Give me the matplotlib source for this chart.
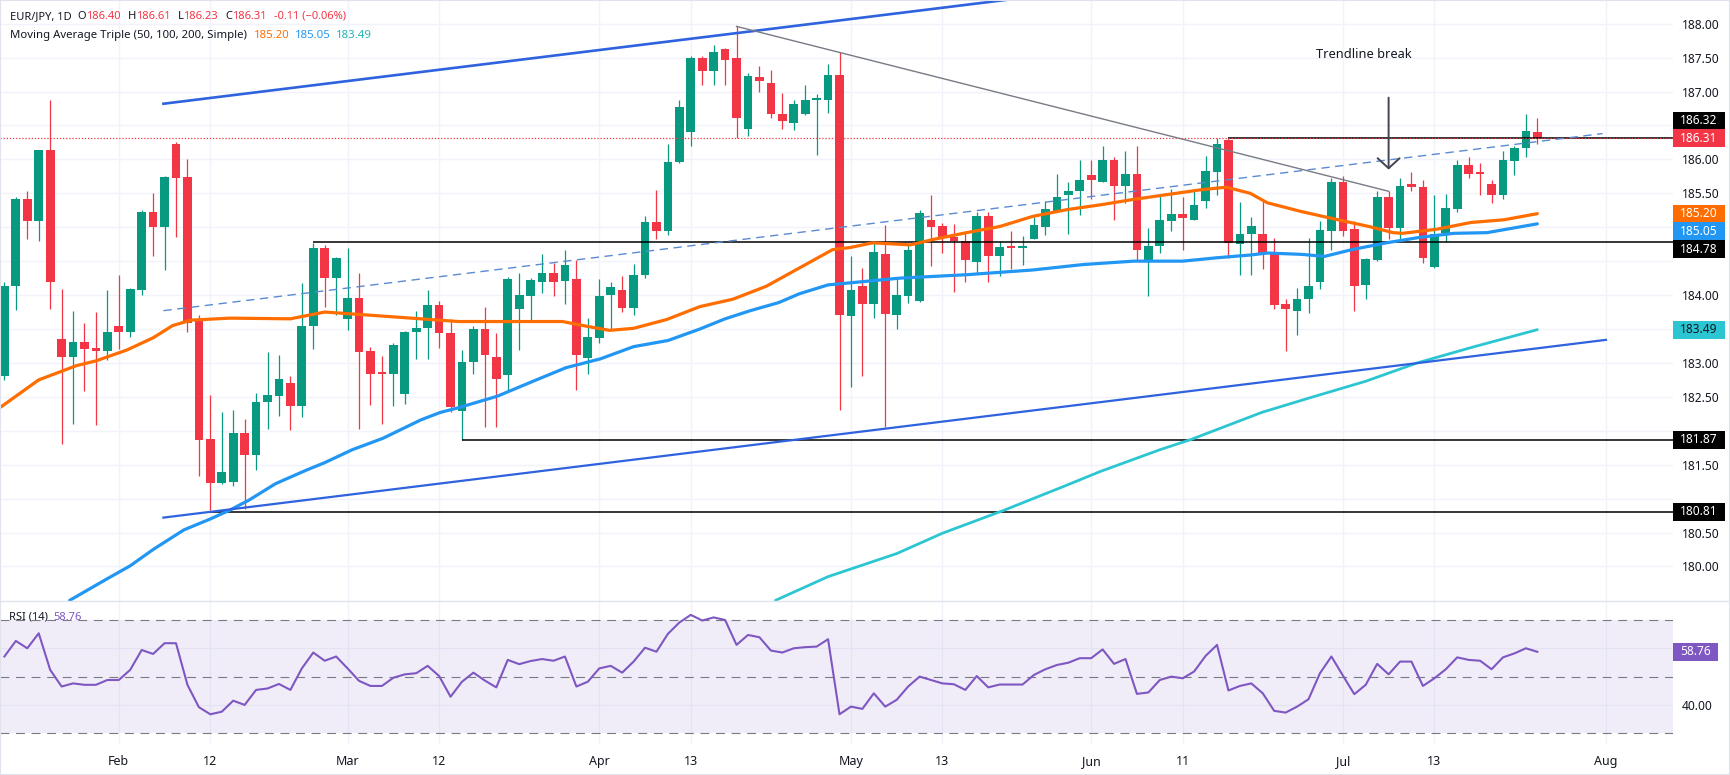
import numpy as np
import pandas as pd
import matplotlib
matplotlib.use('Agg')
import matplotlib.pyplot as plt
from matplotlib.patches import Rectangle
from matplotlib.lines import Line2D
from matplotlib.ticker import FormatStrFormatter
from matplotlib.transforms import IdentityTransform

plt.rcParams['font.family'] = ['Noto Sans', 'DejaVu Sans']

# EUR/JPY daily, 2026-01-19 .. 2026-07-24
first_day, last_day = '2026-01-19', '2026-07-24'

opens = [182.80, 184.13, 185.42, 185.09, 186.14, 183.35, 183.08, 183.31, 183.22, 183.18,
         183.55, 183.45, 184.08, 185.23, 185.00, 186.22, 185.74, 183.62, 181.88, 181.23,
         181.25, 181.96, 181.65, 182.42, 182.51, 182.70, 182.37, 183.55, 184.69, 184.25,
         183.65, 183.95, 183.17, 182.86, 182.83, 182.54, 183.45, 183.51, 183.86, 183.44,
         182.29, 183.02, 183.50, 183.09, 182.82, 183.79, 183.99, 184.20, 184.33, 184.21,
         184.23, 183.07, 183.37, 184.00, 184.08, 183.81, 184.29, 185.08, 184.94, 185.96,
         186.40, 187.49, 187.30, 187.62, 187.50, 186.45, 187.21, 187.12, 186.67, 186.54,
         186.67, 186.87, 186.87, 187.25, 183.69, 184.14, 183.87, 184.61, 183.71, 183.99,
         183.91, 185.10, 185.02, 184.85, 184.79, 184.49, 185.16, 184.58, 184.72, 184.70,
         184.83, 185.00, 185.23, 185.47, 185.54, 185.77, 185.66, 185.99, 185.61, 185.79,
         184.51, 184.72, 185.09, 185.20, 185.11, 185.38, 185.81, 186.28, 184.76, 184.90,
         184.90, 184.63, 183.87, 183.76, 183.94, 184.20, 184.95, 185.66, 184.97, 184.15,
         184.52, 185.45, 184.99, 185.63, 185.60, 184.41, 184.92, 185.27, 185.92, 185.81,
         185.64, 185.47, 185.97, 186.17, 186.40]
highs = [184.20, 185.45, 185.54, 186.14, 186.88, 184.09, 183.77, 183.59, 183.75, 184.07,
         184.29, 184.10, 185.26, 185.51, 185.76, 186.25, 186.00, 183.71, 182.53, 182.28,
         182.30, 182.17, 182.55, 183.16, 183.11, 182.80, 184.18, 184.77, 184.74, 184.56,
         184.69, 184.33, 183.23, 183.10, 183.30, 183.47, 183.77, 184.08, 183.91, 183.65,
         183.19, 183.55, 183.83, 183.44, 184.27, 184.33, 184.25, 184.61, 184.48, 184.66,
         184.52, 183.66, 184.24, 184.20, 184.28, 184.46, 185.17, 185.55, 186.23, 186.88,
         187.52, 187.53, 187.69, 187.64, 187.96, 187.28, 187.37, 187.32, 186.98, 186.88,
         187.10, 186.96, 187.41, 187.58, 184.57, 184.40, 184.77, 185.04, 184.25, 184.74,
         185.26, 185.47, 185.06, 185.05, 184.91, 185.22, 185.22, 184.79, 184.94, 184.87,
         185.15, 185.38, 185.79, 185.66, 185.99, 185.99, 186.20, 186.04, 186.12, 186.20,
         184.99, 185.47, 185.56, 185.45, 185.56, 186.05, 186.31, 186.32, 185.37, 185.15,
         185.38, 184.84, 183.94, 184.10, 184.84, 185.09, 185.73, 185.76, 185.09, 184.55,
         185.53, 185.53, 185.73, 185.82, 185.69, 185.47, 185.49, 185.99, 186.04, 185.95,
         185.70, 186.13, 186.20, 186.67, 186.61]
lows = [182.75, 183.78, 184.82, 184.80, 183.79, 181.80, 182.10, 182.58, 182.09, 183.05,
        183.20, 183.38, 184.00, 184.57, 184.37, 184.86, 183.45, 181.34, 180.83, 181.22,
        181.18, 180.84, 181.42, 182.02, 182.22, 182.01, 182.21, 183.20, 183.83, 183.71,
        183.49, 182.03, 182.38, 182.10, 182.37, 182.40, 183.06, 183.06, 183.22, 182.27,
        181.87, 182.83, 182.06, 182.05, 182.59, 183.19, 183.62, 184.03, 183.98, 183.87,
        182.60, 182.84, 183.30, 183.50, 183.75, 183.70, 184.25, 184.82, 184.88, 185.94,
        186.20, 187.09, 187.10, 187.10, 186.31, 186.34, 187.00, 186.61, 186.45, 186.44,
        186.66, 186.07, 186.68, 182.30, 182.64, 182.81, 183.66, 182.05, 183.50, 183.88,
        183.90, 184.43, 184.62, 184.05, 184.19, 184.31, 184.20, 184.28, 184.38, 184.45,
        184.82, 184.88, 185.22, 184.90, 185.18, 185.41, 185.66, 185.11, 185.36, 184.50,
        183.99, 184.62, 184.95, 184.66, 185.10, 185.28, 185.47, 184.55, 184.30, 184.30,
        184.38, 183.80, 183.17, 183.41, 183.73, 184.09, 184.67, 184.87, 183.76, 183.94,
        184.50, 184.82, 184.79, 185.53, 184.47, 184.40, 184.78, 185.22, 185.72, 185.48,
        185.35, 185.41, 185.77, 186.03, 186.23]
closes = [184.14, 185.41, 185.09, 186.14, 184.19, 183.08, 183.31, 183.21, 183.18, 183.45,
          183.45, 184.09, 185.23, 185.00, 185.74, 185.73, 183.59, 181.87, 181.23, 181.39,
          181.96, 181.65, 182.42, 182.52, 182.77, 182.37, 183.55, 184.69, 184.25, 184.54,
          183.95, 183.16, 182.84, 182.84, 183.26, 183.46, 183.52, 183.86, 183.44, 182.35,
          183.02, 183.50, 183.12, 182.77, 184.24, 184.00, 184.22, 184.33, 184.20, 184.45,
          183.11, 183.38, 183.99, 184.12, 183.81, 184.30, 185.08, 184.94, 185.96, 186.77,
          187.50, 187.30, 187.58, 187.47, 186.61, 187.23, 187.15, 186.67, 186.57, 186.81,
          186.87, 186.91, 187.24, 183.70, 184.07, 183.87, 184.63, 183.72, 184.00, 184.67,
          185.21, 185.01, 184.85, 184.79, 184.51, 185.16, 184.58, 184.71, 184.70, 184.73,
          185.04, 185.27, 185.45, 185.54, 185.70, 185.69, 185.99, 185.61, 185.79, 184.67,
          184.73, 185.10, 185.20, 185.13, 185.33, 185.83, 186.23, 184.77, 184.90, 185.02,
          184.60, 183.86, 183.80, 183.94, 184.14, 184.96, 185.66, 184.95, 184.14, 184.53,
          185.45, 184.99, 185.61, 185.59, 184.54, 184.90, 185.28, 185.92, 185.79, 185.79,
          185.47, 185.99, 186.17, 186.42, 186.31]

# moving averages (bar position, value)
ma50_x = [-0.4, 3.0, 6.3, 8.0, 10.7, 13.0, 14.7, 16.3, 19.7, 25.0, 28.0, 31.4, 36.4, 39.7,
          44.8, 48.8, 50.9, 52.9, 55.0, 57.9, 60.8, 63.7, 66.6, 69.5, 72.4, 73.9, 75.9, 79.2,
          81.2, 84.1, 87.0, 89.9, 92.9, 95.8, 98.7, 101.6, 104.5, 106.8, 108.9, 110.4, 113.4,
          116.3, 119.3, 121.4, 122.2, 125.2, 128.2, 131.1, 134.0]
ma50_y = [182.34, 182.75, 182.96, 183.03, 183.19, 183.37, 183.55, 183.63, 183.66, 183.65,
          183.75, 183.71, 183.65, 183.61, 183.61, 183.61, 183.54, 183.48, 183.51, 183.64,
          183.83, 183.94, 184.13, 184.40, 184.67, 184.70, 184.77, 184.74, 184.82, 184.92,
          185.01, 185.16, 185.26, 185.33, 185.41, 185.48, 185.55, 185.59, 185.50, 185.36,
          185.23, 185.12, 185.01, 184.92, 184.91, 184.97, 185.07, 185.11, 185.20]
ma100_x = [5.7, 9.0, 11.0, 13.0, 15.7, 18.0, 19.7, 21.4, 23.7, 26.4, 28.0, 30.4, 33.1, 36.4,
           38.1, 39.7, 43.1, 46.5, 49.1, 52.1, 55.0, 58.0, 60.8, 63.0, 65.2, 67.7, 69.5, 72.0,
           73.9, 78.3, 84.1, 89.9, 94.3, 98.7, 103.0, 106.0, 108.9, 110.4, 113.4, 115.4, 117.8,
           120.8, 123.7, 126.7, 129.6, 134.0]
ma100_y = [179.50, 179.82, 180.01, 180.25, 180.54, 180.70, 180.83, 180.98, 181.22, 181.42,
           181.53, 181.72, 181.89, 182.16, 182.27, 182.34, 182.51, 182.75, 182.93, 183.06,
           183.24, 183.33, 183.50, 183.65, 183.77, 183.89, 184.02, 184.15, 184.18, 184.25,
           184.30, 184.37, 184.45, 184.50, 184.50, 184.55, 184.59, 184.62, 184.60, 184.57,
           184.67, 184.77, 184.85, 184.91, 184.92, 185.05]
ma200_x = [67.4, 72.0, 78.0, 82.0, 87.4, 92.6, 95.8, 101.0, 103.7, 109.9, 114.0, 119.0,
           123.5, 128.5, 134.0]
ma200_y = [179.50, 179.85, 180.19, 180.49, 180.83, 181.18, 181.40, 181.72, 181.87, 182.27,
           182.48, 182.73, 183.00, 183.24, 183.49]

rsi = [57.1, 62.6, 60.0, 65.3, 52.4, 46.5, 47.6, 47.1, 47.1, 48.8,
       48.8, 52.4, 59.4, 58.0, 61.8, 61.8, 47.1, 39.2, 36.7, 37.6,
       41.5, 40.0, 45.3, 45.8, 47.4, 45.3, 52.9, 58.5, 55.6, 57.1,
       52.9, 48.5, 46.7, 46.7, 49.6, 50.8, 51.2, 53.8, 50.2, 42.9,
       48.2, 51.4, 48.6, 46.2, 55.9, 54.4, 55.5, 56.2, 55.6, 57.1,
       46.5, 48.2, 52.9, 53.8, 51.4, 55.3, 60.2, 58.8, 65.1, 69.1,
       71.8, 69.8, 70.9, 70.0, 61.2, 64.7, 63.9, 59.2, 58.5, 60.0,
       60.4, 60.6, 63.2, 36.7, 39.4, 38.6, 44.1, 39.4, 41.8, 46.5,
       50.0, 48.8, 47.6, 47.3, 45.3, 50.2, 46.2, 47.2, 47.2, 47.2,
       50.6, 52.6, 54.1, 54.9, 56.5, 56.5, 59.6, 54.5, 56.2, 43.9,
       44.4, 48.8, 50.0, 49.4, 51.8, 57.3, 61.2, 45.1, 46.7, 47.6,
       44.1, 37.9, 37.3, 39.4, 42.0, 51.2, 57.1, 50.4, 43.8, 47.1,
       54.5, 50.8, 55.3, 55.3, 46.7, 49.4, 52.6, 56.8, 55.9, 55.6,
       52.6, 56.8, 58.2, 60.0, 58.76]

# drawings: (bar, price) anchors
channel_top = ([13.9, 140.0], [186.82, 189.44])
channel_bot = ([13.9, 140.0], [180.72, 183.34])
channel_mid = ([13.9, 139.7], [183.77, 186.38])
down_line = ([64, 121], [187.96, 185.53])
levels = [186.32, 184.78, 181.87, 180.81]
level_from = [107, 27, 40, 18]
arrow_bar, arrow_top, arrow_tip = 121, 186.91, 185.85

tick_dates = ['2026-02-02', '2026-02-12', '2026-03-02', '2026-03-12', '2026-04-01', '2026-04-13',
              '2026-05-01', '2026-05-13', '2026-06-01', '2026-06-11', '2026-07-01', '2026-07-13',
              '2026-08-03']
tick_labels = ['Feb', '12', 'Mar', '12', 'Apr', '13', 'May', '13', 'Jun', '11', 'Jul', '13', 'Aug']

GREEN, RED = '#089981', '#F23645'
ORANGE, BLUE, TEAL, PURPLE = '#FF6D00', '#2196F3', '#2CC6D3', '#7E57C2'
CHAN = '#2E62DE'
GRID = '#F0F3FA'
TXT = '#131722'

dates = pd.bdate_range(first_day, last_day)
xs = np.arange(len(dates))
axis_days = pd.bdate_range(first_day, '2026-08-31')
tick_pos = axis_days.get_indexer(pd.to_datetime(tick_dates))

W, H = 1730, 775
fig = plt.figure(figsize=(W / 100, H / 100), dpi=100)
fig.patch.set_facecolor('white')
ax = fig.add_axes([0, 174 / H, 1673 / W, 601 / H])
ax2 = fig.add_axes([0, 31 / H, 1673 / W, 143 / H])
XMAX = 145.86

for a in (ax, ax2):
    a.set_xlim(-0.385, XMAX)
    for s in a.spines.values():
        s.set_visible(False)
    a.set_xticks(tick_pos)
    a.grid(True, color=GRID, lw=1)
    a.set_axisbelow(True)
    a.yaxis.tick_right()
    a.tick_params(length=0)
    a.yaxis.set_major_formatter(FormatStrFormatter('%.2f'))

ax.set_ylim(179.491, 188.349)
ax.set_yticks(np.arange(180, 188.01, 0.5))
ax.tick_params(axis='x', labelbottom=False)
ax.tick_params(axis='y', labelsize=8.6, labelcolor=TXT, pad=6.3)

# candles
o, h, l, c = map(np.array, (opens, highs, lows, closes))
cols = np.where(c >= o, GREEN, RED)
ax.vlines(xs, l, h, colors=cols, lw=0.9, zorder=3)
ax.bar(xs, np.maximum(np.abs(c - o), 0.015), 0.76, bottom=np.minimum(o, c),
       color=cols, lw=0, zorder=4)

# horizontal levels and price line
for lv, st in zip(levels, level_from):
    ax.plot([st, XMAX], [lv, lv], color='black', lw=1.1, zorder=5, solid_capstyle='butt')
ax.axhline(c[-1], color=RED, lw=0.9, ls=(0, (1, 1.5)), zorder=5)

# moving averages
ax.plot(ma50_x, ma50_y, color=ORANGE, lw=2.3, zorder=6, solid_capstyle='round')
ax.plot(ma100_x, ma100_y, color=BLUE, lw=2.3, zorder=6, solid_capstyle='round')
ax.plot(ma200_x, ma200_y, color=TEAL, lw=2.0, zorder=6, solid_capstyle='round')

# trend lines
ax.plot(*channel_top, color=CHAN, lw=1.9, zorder=7)
ax.plot(*channel_bot, color=CHAN, lw=1.6, zorder=7)
ax.plot(*channel_mid, color='#5B8BD0', lw=1.0, ls=(0, (6, 4)), zorder=7)
ax.plot(*down_line, color='#787B86', lw=1.0, zorder=7)
ax.annotate('', xy=(arrow_bar, arrow_tip), xytext=(arrow_bar, arrow_top),
            arrowprops=dict(arrowstyle='->,head_length=0.72,head_width=0.79',
                            color='#434651', lw=1.4, shrinkA=0, shrinkB=0), zorder=8)
ax.text(arrow_bar - 2.2, 188 - (55 - 23.7) / 67.85, 'Trendline break', ha='center',
        va='center', fontsize=9.2, color=TXT)

# RSI pane
ax2.set_ylim(26.2, 76.7)
ax2.set_yticks([40, 60])
ax2.axhspan(30, 70, color=PURPLE, alpha=0.1, lw=0, zorder=1)
for v in (70, 50, 30):
    ax2.axhline(v, color='#787B86', lw=0.8, ls=(0, (8, 6)), zorder=2)
ax2.plot(xs, rsi, color=PURPLE, lw=1.5, zorder=3)
ax2.set_xticklabels(tick_labels)
ax2.tick_params(axis='x', labelsize=9, labelcolor=TXT, pad=8)
ax2.tick_params(axis='y', labelsize=8.6, labelcolor=TXT, pad=6.3)

fig.add_artist(Line2D([0, 1], [174 / H, 174 / H], transform=fig.transFigure,
                      color='#E0E3EB', lw=1))
fig.add_artist(Rectangle((0, 0), 1, 1, transform=fig.transFigure, fill=False,
                         edgecolor='#E0E3EB', lw=1.5))

# price scale labels
taken = []

def scale_box(yd, text, bg, fg, right=1725):
    fig.add_artist(Rectangle((1673, yd - 9), right - 1673, 18, transform=IdentityTransform(),
                             facecolor=bg, edgecolor='none', zorder=5))
    fig.text((1673 + right) / 2 / W, yd / H, text, ha='center', va='center',
             color=fg, fontsize=8.6, zorder=6)
    taken.append(yd)

ydisp = lambda a, v: a.transData.transform((0, v))[1]
boxes = [(levels[0], 'black', 'white'), (ma50_y[-1], ORANGE, 'white'),
         (ma100_y[-1], BLUE, 'white'), (levels[1], 'black', 'white'),
         (ma200_y[-1], TEAL, TXT), (levels[2], 'black', 'white'), (levels[3], 'black', 'white')]
y_close = ydisp(ax, c[-1])
prev = y_close
for v, bg, fg in sorted([b for b in boxes if b[0] > c[-1]]):
    prev = max(ydisp(ax, v), prev + 17.7)
    scale_box(prev, f'{v:.2f}', bg, fg)
prev = y_close
for v, bg, fg in sorted([b for b in boxes if b[0] <= c[-1]], reverse=True):
    prev = min(ydisp(ax, v), prev - 17.7)
    scale_box(prev, f'{v:.2f}', bg, fg)
scale_box(y_close, f'{c[-1]:.2f}', RED, 'white')
scale_box(ydisp(ax2, rsi[-1]), f'{rsi[-1]:.2f}', PURPLE, 'white', right=1718)

# tick labels hidden behind the scale boxes
for a in (ax, ax2):
    for t, lab in zip(a.get_yticks(), a.get_yticklabels()):
        if any(abs(ydisp(a, t) - yb) < 16 for yb in taken):
            lab.set_visible(False)

# legend rows
renderer = fig.canvas.get_renderer()

def put_row(x, y, parts, size=8.0):
    for s, colr, gap in parts:
        t = fig.text(x / W, 1 - y / H, s, color=colr, fontsize=size, ha='left', va='center')
        x += t.get_window_extent(renderer).width + gap

chg = c[-1] - c[-2]
pct = chg / c[-2] * 100
put_row(10, 16.5, [('EUR/JPY, 1D', TXT, 6), ('O', TXT, 0), (f'{o[-1]:.2f}', RED, 7),
                   ('H', TXT, 0), (f'{h[-1]:.2f}', RED, 7), ('L', TXT, 0),
                   (f'{l[-1]:.2f}', RED, 7), ('C', TXT, 0), (f'{c[-1]:.2f}', RED, 7),
                   (f'{chg:.2f} (\u2212{abs(pct):.2f}%)', RED, 0)])
put_row(10, 35.7, [('Moving Average Triple (50, 100, 200, Simple)', TXT, 7),
                   (f'{ma50_y[-1]:.2f}', ORANGE, 5), (f'{ma100_y[-1]:.2f}', BLUE, 5),
                   (f'{ma200_y[-1]:.2f}', '#22B5B5', 0)], size=8.2)
put_row(9, 617, [('RSI (14)', TXT, 5), (f'{rsi[-1]:.2f}', PURPLE, 0)])

fig.savefig('out.png', dpi=100)
